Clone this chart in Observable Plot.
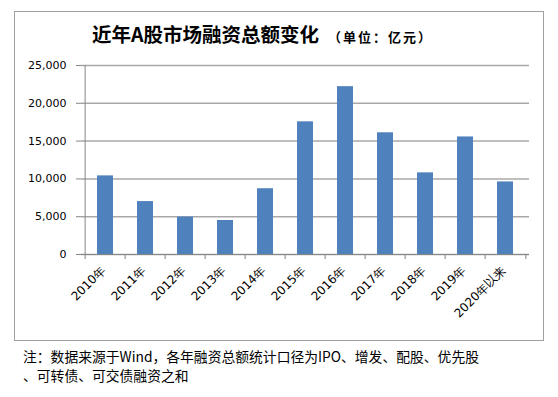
<!DOCTYPE html>
<html><head><meta charset="utf-8">
<script src="https://cdn.jsdelivr.net/npm/d3@7"></script>
<script src="https://cdn.jsdelivr.net/npm/@observablehq/plot@0.6"></script>
<style>
body{margin:0;background:#fff;}
#wrap{position:relative;width:558px;height:397px;overflow:hidden;background:#fff;}
#frame{position:absolute;left:14px;top:11px;width:528px;height:328px;border:1px solid #a0a0a0;}
#title{position:absolute;left:92px;top:21px;font-family:"Noto Sans CJK SC";font-weight:bold;font-size:19.5px;white-space:nowrap;line-height:26px;color:#000;}
#title span{font-size:13px;letter-spacing:2px;margin-left:9px;}
#chart{position:absolute;left:0;top:50px;}
.note{position:absolute;left:23px;font-family:"Noto Sans CJK SC";font-size:13.8px;line-height:16px;white-space:nowrap;color:#000;}
</style>
</head><body>
<div id="wrap">
  <div id="frame"></div>
  <div id="title">近年A股市场融资总额变化<span>（单位：亿元）</span></div>
  <div id="chart"></div>
  <div class="note" style="top:348px">注：数据来源于Wind，各年融资总额统计口径为IPO、增发、配股、优先股</div>
  <div class="note" style="top:367px">、可转债、可交债融资之和</div>
</div>
<script>
const years = ["2010年","2011年","2012年","2013年","2014年","2015年","2016年","2017年","2018年","2019年","2020年以来"];
const values = [10400,7000,4950,4500,8700,17550,22200,16100,10800,15550,9600];
const yTicks = [0,5000,10000,15000,20000,25000];

const data = years.map((year,i)=>({year, value: values[i]}));
const W = 558, mL = 81, mR = 29;
const step = (W - mL - mR) / years.length;
const axisColor = "#868686";

const chart = Plot.plot({
  width: W, height: 290,
  marginTop: 15, marginBottom: 86, marginLeft: mL, marginRight: mR,
  style: {fontFamily: "DejaVu Sans", fontSize: "11px", color: "#000", background: "transparent"},
  x: {domain: years, paddingInner: 0.6, paddingOuter: 0.3, label: null},
  y: {domain: [0, 25000], label: null},
  marks: [
    Plot.gridY(yTicks, {stroke: "#a8a8a8", strokeOpacity: 1, strokeWidth: 1.5}),
    Plot.barY(data, {x: "year", y: "value", fill: "#4F81BD"}),
    Plot.ruleY([0], {stroke: axisColor, strokeWidth: 1}),
    Plot.ruleX([years[0]], {x: d => d, dx: -step/2, y1: 0, y2: 25000, stroke: axisColor}),
    Plot.ruleX(years, {x: d => d, dx: -step/2, y1: 0, y2: 0, insetBottom: -5, stroke: axisColor}),
    Plot.ruleX([years[years.length-1]], {x: d => d, dx: step/2, y1: 0, y2: 0, insetBottom: -5, stroke: axisColor}),
    Plot.axisY(yTicks, {tickFormat: d => d3.format(",")(d), tickSize: 5, tickPadding: 10, stroke: axisColor, fontSize: 11}),
    Plot.axisX({tickSize: 0, tickPadding: 14, tickRotate: -45, fontSize: 12, dx: -2})
  ]
});
document.getElementById("chart").appendChild(chart);
</script>
</body></html>
